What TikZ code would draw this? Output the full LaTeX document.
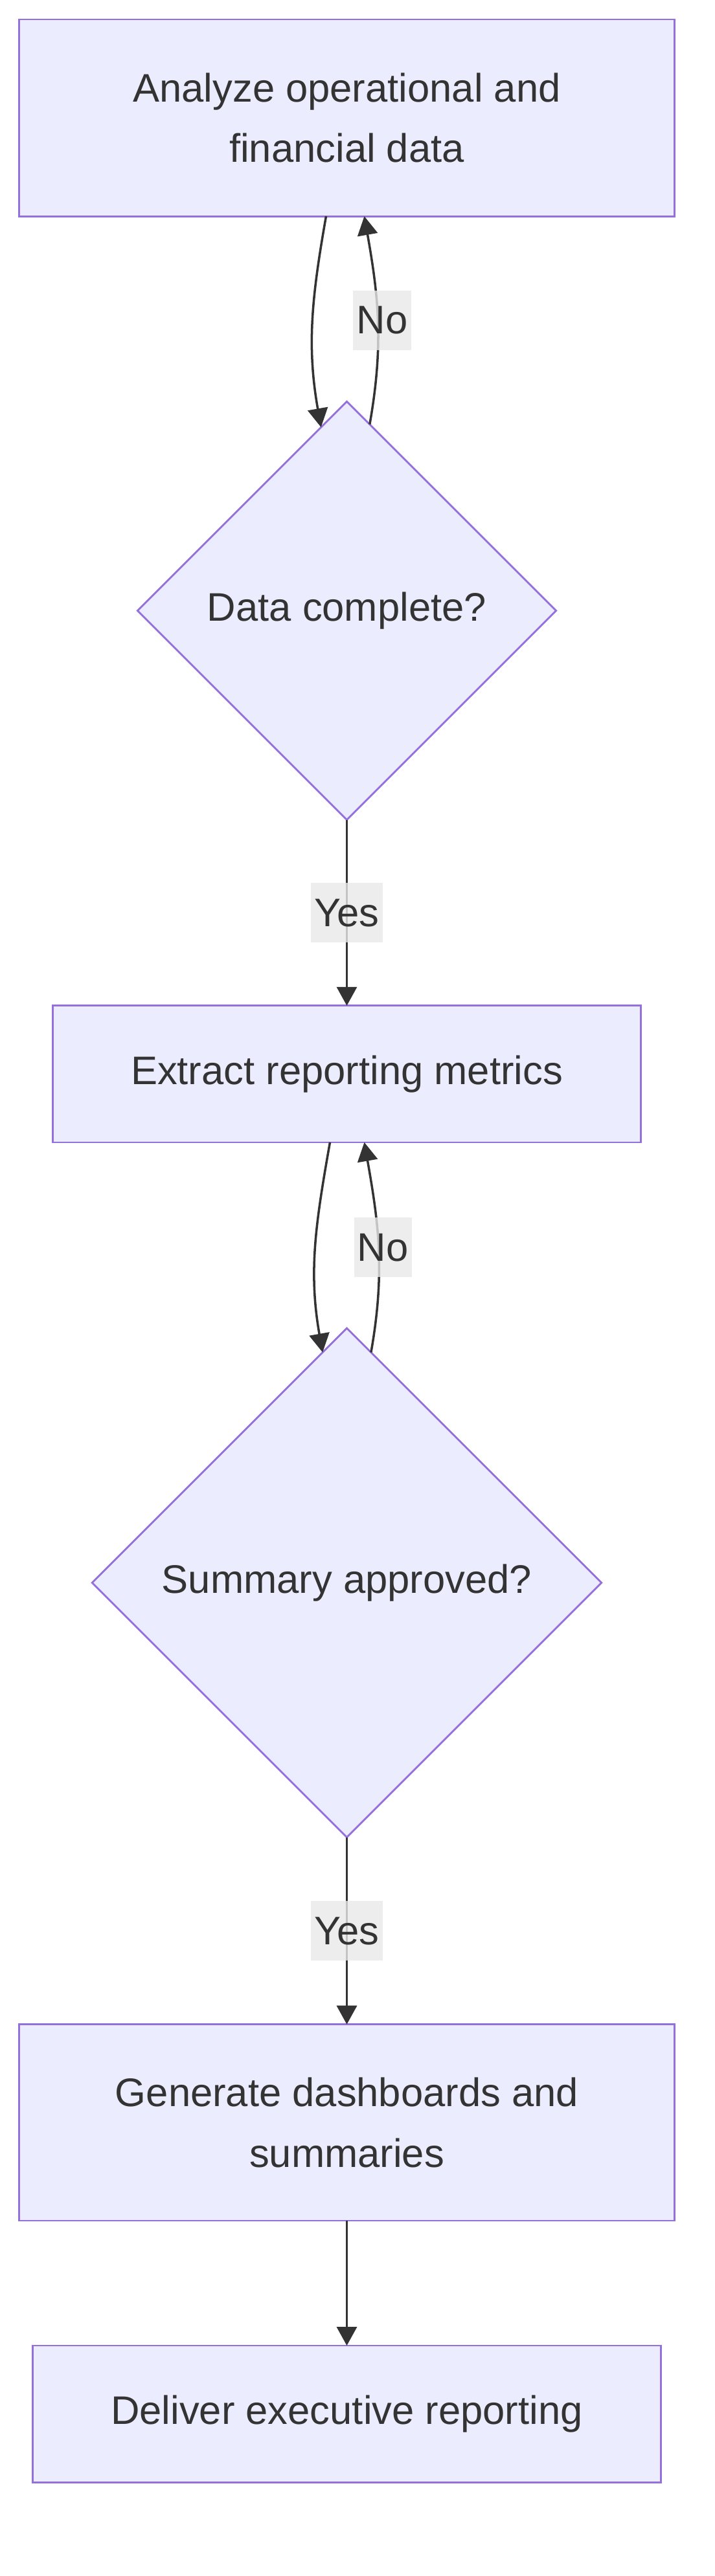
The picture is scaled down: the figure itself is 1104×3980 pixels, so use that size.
\documentclass[tikz,border=0pt]{standalone}
\usepackage{fontspec}
\setmainfont{Liberation Sans}
\usepackage{tikz}
\usetikzlibrary{positioning,arrows.meta,shapes.geometric}
\definecolor{nodeFill}{HTML}{ECECFF}
\definecolor{nodeLine}{HTML}{9370DB}
\definecolor{edgeInk}{HTML}{333333}
\definecolor{labelBg}{HTML}{E8E8E8}

\begin{document}
\begin{tikzpicture}[
  x=0.01cm, y=-0.01cm,
  node distance=2.87cm,
  every node/.style={font=\fontsize{17.5}{26.7}\selectfont, text=edgeInk},
  procbox/.style={draw=nodeLine, fill=nodeFill, line width=0.8pt, inner sep=0pt, outer sep=0pt, align=center},
  decision/.style={diamond, aspect=1, draw=nodeLine, fill=nodeFill, line width=0.8pt, inner sep=0pt, outer sep=0pt},
  lbl/.style={fill=labelBg, fill opacity=0.8, text opacity=1, inner xsep=1.5pt, minimum height=0.92cm},
  arr/.style={-{Triangle[length=0.29cm, width=0.31cm]}, edgeInk, line width=1pt}
]
  \useasboundingbox (0,0) rectangle (1104,3980);

  % Column of steps, top to bottom
  \node[procbox, minimum width=10.11cm, minimum height=3.04cm] (analyze) at (535.5,182)
    {Analyze operational and\\financial data};
  \node[decision, minimum width=6.46cm, minimum height=6.46cm, below=2.86cm of analyze] (complete)
    {Data complete?};
  \node[procbox, minimum width=9.08cm, minimum height=2.11cm, below=of complete] (extract)
    {Extract reporting metrics};
  \node[decision, minimum width=7.86cm, minimum height=7.86cm, below=of extract] (approved)
    {Summary approved?};
  \node[procbox, minimum width=10.11cm, minimum height=3.03cm, below=2.89cm of approved] (generate)
    {Generate dashboards and\\summaries};
  \node[procbox, minimum width=9.70cm, minimum height=2.11cm, below=1.93cm of generate] (deliver)
    {Deliver executive reporting};

  % Loop 1: analyze <-> data complete
  \draw[arr] ([xshift=-0.32cm]analyze.south) to[out=-100, in=100] (complete.98);
  \draw[arr] (complete.83) to[out=80, in=-80] node[lbl, xshift=0.07cm] {No} ([xshift=0.27cm]analyze.south);
  \draw[arr] (complete.south) -- node[lbl] {Yes} (extract.north);

  % Loop 2: extract <-> summary approved
  \draw[arr] ([xshift=-0.26cm]extract.south) to[out=-100, in=100] (approved.96.5);
  \draw[arr] (approved.84) to[out=80, in=-80] node[lbl, xshift=0.07cm] {No} ([xshift=0.27cm]extract.south);
  \draw[arr] (approved.south) -- node[lbl] {Yes} (generate.north);

  \draw[arr] (generate.south) -- (deliver.north);
\end{tikzpicture}
\end{document}
